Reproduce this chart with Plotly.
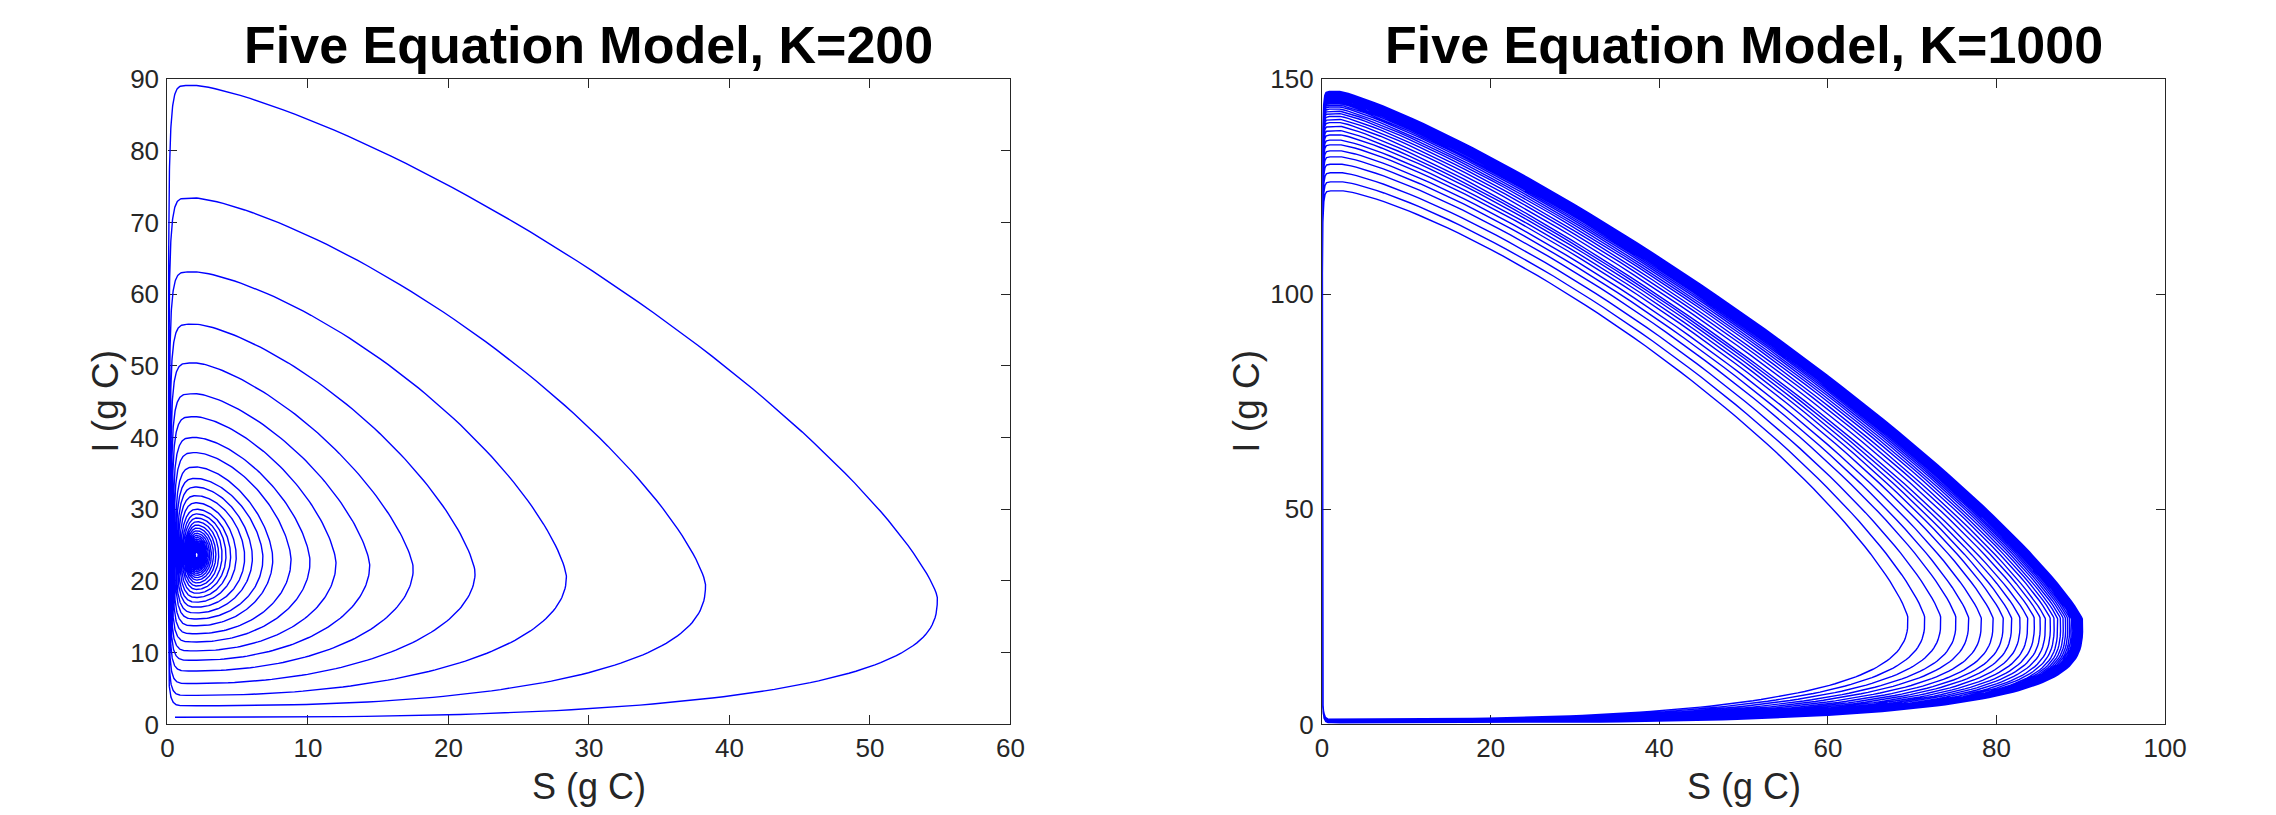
import numpy as np
import plotly.graph_objects as go

# ------------------------------------------------------------------
# Values, one entry per loop of each
# spiral trajectory (S on x, I on y, both in g C).
# ------------------------------------------------------------------

# ---- K = 200 : spiral converging inward, outermost loop first ----
k200_start = [0.54, 1.0]                     # where the trajectory begins
k200_peak_S = 2.08                           # S at which every loop peaks / bottoms
k200_right_S = [54.8, 38.3, 28.4, 21.9, 17.5, 14.4, 12.0, 10.15, 8.8, 7.5,
                6.8, 6.05, 5.5, 4.9, 4.5, 4.17, 3.89, 3.65, 3.45, 3.28,
                3.13, 3.01, 2.90, 2.80, 2.72, 2.65, 2.59, 2.53, 2.48, 2.44,
                2.40, 2.37, 2.34, 2.31, 2.29, 2.26, 2.24, 2.23, 2.21, 2.20]
k200_right_I = [17.7, 19.5, 20.6, 21.2, 21.8, 22.2, 22.5, 22.75, 22.95, 23.1,
                23.2, 23.3, 23.37, 23.43, 23.48, 23.52, 23.55, 23.57, 23.58, 23.59,
                23.6, 23.6, 23.6, 23.6, 23.6, 23.6, 23.6, 23.6, 23.6, 23.6,
                23.6, 23.6, 23.6, 23.6, 23.6, 23.6, 23.6, 23.6, 23.6, 23.6]
k200_top_I = [89.1, 73.4, 63.1, 55.8, 50.4, 46.1, 42.9, 40.0, 37.9, 35.9,
              34.3, 33.1, 31.9, 30.9, 30.0, 29.36, 28.78, 28.27, 27.8, 27.38,
              27.0, 26.66, 26.35, 26.08, 25.83, 25.6, 25.4, 25.23, 25.06, 24.92,
              24.78, 24.67, 24.56, 24.46, 24.38, 24.3, 24.23, 24.17, 24.11, 24.06]
k200_bottom_I = [1.0, 2.6, 4.05, 5.7, 7.45, 8.95, 10.25, 11.5, 12.65, 13.75,
                 14.7, 15.55, 16.35, 17.05, 17.7, 18.29, 18.82, 19.3, 19.73, 20.12,
                 20.46, 20.78, 21.06, 21.31, 21.54, 21.75, 21.93, 22.1, 22.25, 22.38,
                 22.51, 22.62, 22.71, 22.8, 22.88, 22.95, 23.02, 23.08, 23.13, 23.18]
k200_left_S = [0.08, 0.11, 0.15, 0.20, 0.25, 0.30, 0.36, 0.43, 0.49, 0.58,
               0.64, 0.72, 0.79, 0.88, 0.96, 1.04, 1.11, 1.19, 1.26, 1.32,
               1.38, 1.44, 1.49, 1.55, 1.59, 1.63, 1.67, 1.71, 1.75, 1.77,
               1.80, 1.83, 1.85, 1.87, 1.89, 1.92, 1.93, 1.94, 1.96, 1.97]
# squareness of each quarter of a loop (2 = elliptic)
k200_bend_bottom = [2.7, 2.4, 2.1, 2.0, 2.0, 2.0, 2.0, 2.0, 2.0, 2.0,
                    2.0, 2.0, 2.0, 2.0, 2.0, 2.0, 2.0, 2.0, 2.0, 2.0,
                    2.0, 2.0, 2.0, 2.0, 2.0, 2.0, 2.0, 2.0, 2.0, 2.0,
                    2.0, 2.0, 2.0, 2.0, 2.0, 2.0, 2.0, 2.0, 2.0, 2.0]
k200_bend_upper = [1.3, 1.35, 1.4, 1.4, 1.4, 1.45, 1.5, 1.55, 1.6, 1.65,
                   1.7, 1.75, 1.8, 1.85, 1.9, 1.95, 2.0, 2.0, 2.0, 2.0,
                   2.0, 2.0, 2.0, 2.0, 2.0, 2.0, 2.0, 2.0, 2.0, 2.0,
                   2.0, 2.0, 2.0, 2.0, 2.0, 2.0, 2.0, 2.0, 2.0, 2.0]
k200_bend_left = [8.0, 7.5, 7.0, 6.5, 6.0, 5.5, 5.0, 4.5, 4.0, 3.6,
                  3.3, 3.0, 2.8, 2.6, 2.4, 2.2, 2.1, 2.0, 2.0, 2.0,
                  2.0, 2.0, 2.0, 2.0, 2.0, 2.0, 2.0, 2.0, 2.0, 2.0,
                  2.0, 2.0, 2.0, 2.0, 2.0, 2.0, 2.0, 2.0, 2.0, 2.0]

# ---- K = 1000 : spiral growing outward to a limit cycle, innermost loop first ----
k1000_start = [0.5, 1.2]
k1000_left_S = 0.03
k1000_peak_S = [2.5, 2.45, 2.4, 2.36, 2.32, 2.29, 2.26, 2.23, 2.21, 2.19,
                2.17, 2.15, 2.14, 2.13, 2.12, 2.1, 2.1, 2.1, 2.1, 2.1,
                2.1, 2.1, 2.1, 2.1, 2.1, 2.1, 2.1, 2.1, 2.1, 2.1,
                2.1, 2.1, 2.1, 2.1, 2.1, 2.1, 2.1, 2.1]
k1000_right_S = [69.5, 71.5, 73.4, 75.2, 76.7, 78.2, 79.6, 80.8, 81.8, 82.8,
                 83.7, 84.5, 85.2, 85.8, 86.4, 86.85, 87.25, 87.61, 87.93, 88.21,
                 88.46, 88.69, 88.89, 89.06, 89.22, 89.36, 89.49, 89.6, 89.7, 89.79,
                 89.86, 89.93, 90.0, 90.05, 90.1, 90.14, 90.18, 90.22]
k1000_right_I = [24.7, 24.7, 24.7, 24.7, 24.7, 24.6, 24.6, 24.6, 24.6, 24.6,
                 24.6, 24.6, 24.6, 24.5, 24.5, 24.5, 24.5, 24.5, 24.5, 24.5,
                 24.5, 24.5, 24.5, 24.4, 24.4, 24.4, 24.4, 24.4, 24.4, 24.4,
                 24.4, 24.3, 24.3, 24.3, 24.3, 24.3, 24.3, 24.3]
k1000_top_I = [124.0, 126.1, 128.2, 130.2, 131.9, 133.3, 134.7, 135.8, 137.0, 138.0,
               139.0, 139.86, 140.6, 141.3, 141.96, 142.5, 143.0, 143.5, 143.9, 144.27,
               144.6, 144.9, 145.17, 145.4, 145.63, 145.83, 146.0, 146.17, 146.3, 146.44,
               146.55, 146.66, 146.75, 146.84, 146.9, 146.98, 147.04, 147.1]
k1000_bottom_I = [1.2, 1.15, 1.1, 1.05, 1.0, 0.95, 0.9, 0.85, 0.8, 0.76,
                  0.72, 0.68, 0.65, 0.62, 0.59, 0.56, 0.54, 0.52, 0.5, 0.48,
                  0.47, 0.46, 0.45, 0.44, 0.43, 0.42, 0.42, 0.41, 0.41, 0.4,
                  0.4, 0.4, 0.4, 0.4, 0.4, 0.4, 0.4, 0.4]
k1000_bend_bottom = [2.7, 2.75, 2.8, 2.85, 2.9, 2.95, 3.0, 3.05, 3.1, 3.15,
                     3.2, 3.25, 3.3, 3.35, 3.4, 3.45, 3.5, 3.5, 3.5, 3.5,
                     3.5, 3.5, 3.5, 3.5, 3.5, 3.5, 3.5, 3.5, 3.5, 3.5,
                     3.5, 3.5, 3.5, 3.5, 3.5, 3.5, 3.5, 3.5]
k1000_bend_upper = [1.3, 1.29, 1.28, 1.27, 1.26, 1.25, 1.24, 1.23, 1.22, 1.21,
                    1.2, 1.2, 1.2, 1.2, 1.2, 1.2, 1.2, 1.2, 1.2, 1.2,
                    1.2, 1.2, 1.2, 1.2, 1.2, 1.2, 1.2, 1.2, 1.2, 1.2,
                    1.2, 1.2, 1.2, 1.2, 1.2, 1.2, 1.2, 1.2]
k1000_bend_topleft = 15.0
k1000_bend_botleft = 10.0

titles = ["Five Equation Model, K=200", "Five Equation Model, K=1000"]
x_label = "S (g C)"
y_label = "I (g C)"
x_ticks_200 = [0, 10, 20, 30, 40, 50, 60]
y_ticks_200 = [0, 10, 20, 30, 40, 50, 60, 70, 80, 90]
x_ticks_1000 = [0, 20, 40, 60, 80, 100]
y_ticks_1000 = [0, 50, 100, 150]


def quarter(cx, cy, x0, y0, x1, y1, n, m=70):
    """Quarter of a super-ellipse centred on (cx, cy) from (x0,y0) to (x1,y1)."""
    phi = np.linspace(0.0, np.pi / 2, m)
    c = np.abs(np.cos(phi)) ** (2.0 / n)
    s = np.abs(np.sin(phi)) ** (2.0 / n)
    return cx + (x0 - cx) * c + (x1 - cx) * s, cy + (y0 - cy) * c + (y1 - cy) * s


def spiral(start, peak_s, right_s, right_i, top_i, bottom_i, left_s,
           n_bot, n_up, n_tl, n_lb):
    N = len(right_s)
    g = lambda a, k: a[k] if isinstance(a, (list, tuple)) else a
    xs, ys = [np.array([start[0]])], [np.array([start[1]])]
    for k in range(N):
        st, ir = g(peak_s, k), right_i[k]
        segs = [
            quarter(st, ir, st, bottom_i[k], right_s[k], ir, g(n_bot, k)),
            quarter(st, ir, right_s[k], ir, st, top_i[k], g(n_up, k)),
            quarter(st, ir, st, top_i[k], g(left_s, k), ir, g(n_tl, k)),
        ]
        if k + 1 < N:
            nst = g(peak_s, k + 1)
            segs.append(quarter(nst, ir, g(left_s, k), ir, nst, bottom_i[k + 1], g(n_lb, k)))
        else:
            segs.append(quarter(st, ir, g(left_s, k), ir, st, bottom_i[k], g(n_lb, k)))
        for sx, sy in segs:
            xs.append(sx)
            ys.append(sy)
    return np.concatenate(xs), np.concatenate(ys)


x200, y200 = spiral(k200_start, k200_peak_S, k200_right_S, k200_right_I, k200_top_I,
                    k200_bottom_I, k200_left_S, k200_bend_bottom, k200_bend_upper,
                    k200_bend_left, k200_bend_left)
x1000, y1000 = spiral(k1000_start, k1000_peak_S, k1000_right_S, k1000_right_I, k1000_top_I,
                      k1000_bottom_I, k1000_left_S, k1000_bend_bottom, k1000_bend_upper,
                      k1000_bend_topleft, k1000_bend_botleft)

# page is 2276 x 815; the browser body keeps its default 8 px margin
PAGE_MARGIN = 8
W, H = 2276 - 2 * PAGE_MARGIN, 815 - 2 * PAGE_MARGIN
FONT = "Liberation Sans, Arial, Helvetica, sans-serif"
AX = "#262626"
LINE = dict(color="#0000FF", width=1.4)


def px_x(full):   # page pixel -> paper fraction
    return (full - PAGE_MARGIN) / W


def px_y(full):
    return (H - (full - PAGE_MARGIN)) / H


fig = go.Figure()
fig.add_trace(go.Scatter(x=x200, y=y200, mode="lines", line=LINE,
                         xaxis="x", yaxis="y", showlegend=False, hoverinfo="skip"))
fig.add_trace(go.Scatter(x=x1000, y=y1000, mode="lines", line=LINE,
                         xaxis="x2", yaxis="y2", showlegend=False, hoverinfo="skip"))

# plot-area edges in page pixels (measured on the reference)
L1, R1 = 167.4, 1010.4
L2, R2 = 1322.1, 2165.1
TOP, BOT = 79.0, 724.4
dom1 = [px_x(L1), px_x(R1)]
dom2 = [px_x(L2), px_x(R2)]
ydom = [px_y(BOT), px_y(TOP)]

common = dict(showline=True, linecolor=AX, linewidth=1.3, mirror="ticks",
              ticks="inside", ticklen=9, tickwidth=1.3, tickcolor=AX,
              showgrid=False, zeroline=False, layer="below traces", automargin=False,
              tickfont=dict(family=FONT, size=26, color=AX))

fig.update_layout(
    width=W, height=H, autosize=False,
    margin=dict(l=0, r=0, t=0, b=0, pad=0, autoexpand=False),
    paper_bgcolor="white", plot_bgcolor="white",
    xaxis=dict(domain=dom1, range=[0, 60], tickvals=x_ticks_200, anchor="y",
               ticklabelstandoff=0, **common),
    yaxis=dict(domain=ydom, range=[0, 90], tickvals=y_ticks_200, anchor="x",
               ticklabelstandoff=2, **common),
    xaxis2=dict(domain=dom2, range=[0, 100], tickvals=x_ticks_1000, anchor="y2",
                ticklabelstandoff=0, **common),
    yaxis2=dict(domain=ydom, range=[0, 150], tickvals=y_ticks_1000, anchor="x2",
                ticklabelstandoff=2, **common),
)

ann = []
for dom, title, ylab_x in [(dom1, titles[0], 106), (dom2, titles[1], 1247)]:
    cx = (dom[0] + dom[1]) / 2
    ann.append(dict(x=cx, y=px_y(45), xref="paper", yref="paper", text="<b>%s</b>" % title,
                    showarrow=False, xanchor="center", yanchor="middle",
                    font=dict(family=FONT, size=52, color="black")))
    ann.append(dict(x=cx, y=px_y(786), xref="paper", yref="paper", text=x_label,
                    showarrow=False, xanchor="center", yanchor="middle",
                    font=dict(family=FONT, size=36, color=AX)))
    ann.append(dict(x=px_x(ylab_x), y=px_y((TOP + BOT) / 2), xref="paper", yref="paper",
                    text=y_label, textangle=-90, showarrow=False,
                    xanchor="center", yanchor="middle",
                    font=dict(family=FONT, size=37, color=AX)))
fig.update_layout(annotations=ann)

fig.write_html("out.html", config={"displayModeBar": False})
